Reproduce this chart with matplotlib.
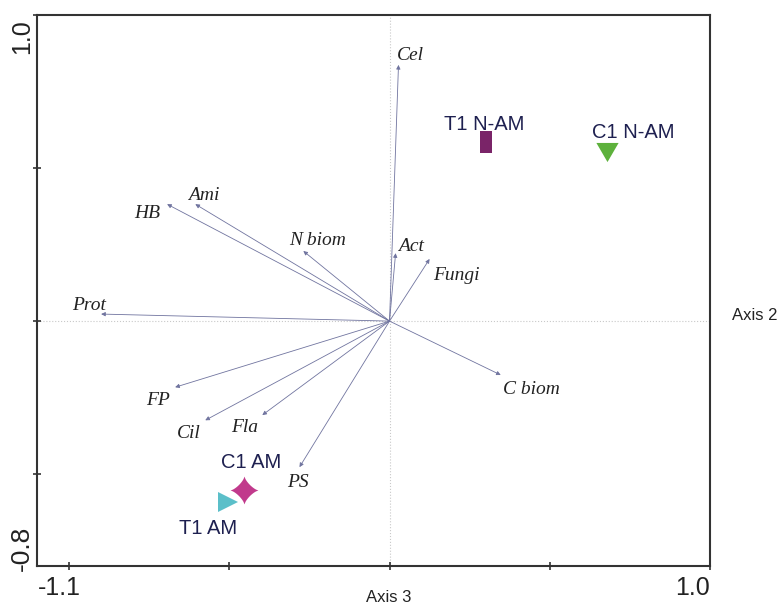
import numpy as np
import matplotlib
matplotlib.use("Agg")
import matplotlib.pyplot as plt

# environmental variables (arrow tips)
var_names = ["Cel", "Act", "Fungi", "C biom", "N biom", "Ami", "HB", "Prot", "FP", "Cil", "Fla", "PS"]
var_x = [0.028, 0.019, 0.125, 0.347, -0.269, -0.606, -0.694, -0.900, -0.669, -0.575, -0.397, -0.281]
var_y = [0.837, 0.222, 0.203, -0.176, 0.229, 0.382, 0.382, 0.023, -0.216, -0.324, -0.307, -0.477]

# samples
samp_names = ["T1 N-AM", "C1 N-AM", "C1 AM", "T1 AM"]
samp_x = [0.300, 0.678, -0.453, -0.503]
samp_y = [0.585, 0.552, -0.552, -0.592]

# label offsets in pixels (dx right, dy down)
var_off = [(12, -9), (15, -7), (27, 17), (31, 15), (14, -11), (8, -9),
           (-20, 9), (-12, -9), (-17, 13), (-16, 13), (-18, 12), (-2, 15)]
samp_off = [(-1, -18), (26, -20), (7, -28), (-20, 26)]

rect = [(-0.565, -1), (0.565, -1), (0.565, 1), (-0.565, 1), (-0.565, -1)]
tri_down = [(-1, 0.86), (1, 0.86), (0, -0.86), (-1, 0.86)]
# four-point star with concave sides
t = np.linspace(0, 2 * np.pi, 81)
p = 0.75
r = 1.0 / (np.abs(np.cos(t)) ** p + np.abs(np.sin(t)) ** p) ** (1 / p)
star = list(zip(r * np.cos(t), r * np.sin(t)))
markers = [rect, tri_down, star, ">"]
msizes = [16.5, 16, 20, 14]
colors = ["#7a2468", "#5db13c", "#c13a8c", "#5bbfc9"]

fig = plt.figure(figsize=(7.79, 6.05), dpi=100)
ax = fig.add_axes([37 / 779, 39 / 605, 673 / 779, 551 / 605])
ax.set_xlim(-1.1, 1.0)
ax.set_ylim(-0.8, 1.0)

ax.axhline(0, color="#c9c9c9", lw=0.8, ls=":", zorder=0)
ax.axvline(0, color="#c9c9c9", lw=0.8, ls=":", zorder=0)

px2pt = 0.72
for name, x, y, (dx, dy) in zip(var_names, var_x, var_y, var_off):
    ax.annotate("", xy=(x, y), xytext=(0, 0),
                arrowprops=dict(arrowstyle="-|>", color="#70749f", lw=0.6,
                                mutation_scale=6, shrinkA=0, shrinkB=0))
    ax.annotate(name, xy=(x, y), xytext=(dx * px2pt, -dy * px2pt), textcoords="offset points",
                ha="center", va="center", fontsize=14, family="Liberation Serif",
                style="italic", color="#222222")

for name, x, y, m, ms, c, (dx, dy) in zip(samp_names, samp_x, samp_y, markers, msizes, colors, samp_off):
    ax.plot([x], [y], marker=m, markersize=ms, color=c, markeredgewidth=0, ls="none", zorder=3)
    ax.annotate(name, xy=(x, y), xytext=(dx * px2pt, -dy * px2pt), textcoords="offset points",
                ha="center", va="center", fontsize=14.5, family="Liberation Sans",
                color="#1e2050", zorder=4)

ax.set_xticks([-1.0, -0.5, 0, 0.5, 1.0])
ax.set_yticks([-0.5, 0, 0.5, 1.0])
ax.set_xticklabels([])
ax.set_yticklabels([])
ax.tick_params(direction="inout", length=6, width=1.2, color="#333333")
for s in ax.spines.values():
    s.set_color("#333333")
    s.set_linewidth(1.5)

fig.text(38 / 779, 1 - 588 / 605, "-1.1", ha="left", va="center", fontsize=18,
         family="Liberation Sans", color="#222222")
fig.text(710 / 779, 1 - 588 / 605, "1.0", ha="right", va="center", fontsize=18,
         family="Liberation Sans", color="#222222")
fig.text(22 / 779, 1 - 19 / 605, "1.0", ha="center", va="top", rotation=90, fontsize=18,
         family="Liberation Sans", color="#222222")
fig.text(22 / 779, 1 - 571 / 605, "-0.8", ha="center", va="bottom", rotation=90, fontsize=19,
         family="Liberation Sans", color="#222222")
fig.text(389 / 779, 1 - 598 / 605, "Axis 3", ha="center", va="center", fontsize=12,
         family="Liberation Sans", color="#222222")
fig.text(732 / 779, 1 - 315 / 605, "Axis 2", ha="left", va="center", fontsize=12,
         family="Liberation Sans", color="#222222")

fig.savefig("out.png", dpi=100)
